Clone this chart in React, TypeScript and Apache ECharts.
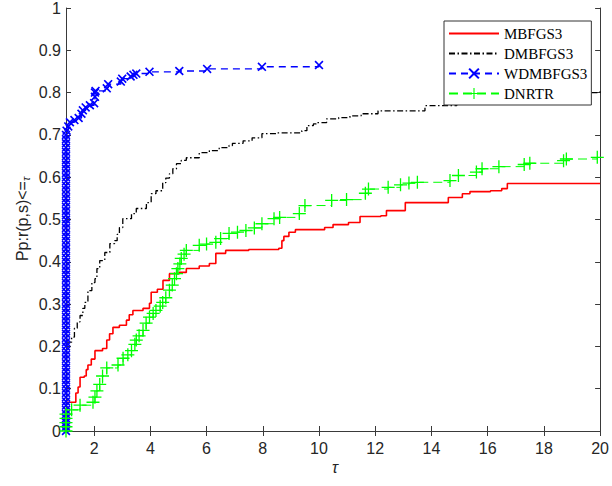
import React, { useEffect, useRef } from "react";
import * as echarts from "echarts";

const X_TICKS = [2, 4, 6, 8, 10, 12, 14, 16, 18, 20];
const SERIES_NAMES = ["MBFGS3", "DMBFGS3", "WDMBFGS3", "DNRTR"];

const MB_X = [1, 1.35, 1.43, 1.5, 1.65, 1.72, 1.78, 1.9, 2.03, 2.3, 2.45, 2.55, 2.67, 2.9, 3.15, 3.25, 3.38, 3.74, 3.97, 4.03, 4.25, 4.45, 4.68, 5.03, 5.28, 5.74, 6.1, 6.33, 6.68, 7.5, 8.57, 8.68, 8.75, 8.93, 9.16, 10.2, 10.5, 11.05, 11.46, 12.2, 12.4, 13.07, 14.6, 15.1, 15.37, 16.1, 16.5, 16.7, 20];
const MB_Y = [0.068, 0.09, 0.104, 0.127, 0.13, 0.145, 0.156, 0.17, 0.19, 0.195, 0.215, 0.23, 0.245, 0.25, 0.262, 0.275, 0.285, 0.29, 0.302, 0.328, 0.335, 0.356, 0.372, 0.375, 0.384, 0.39, 0.396, 0.42, 0.427, 0.429, 0.432, 0.45, 0.46, 0.47, 0.476, 0.481, 0.488, 0.493, 0.507, 0.509, 0.521, 0.54, 0.552, 0.561, 0.566, 0.568, 0.573, 0.585, 0.585];

const DM_X = [1, 1.2, 1.3, 1.4, 1.5, 1.6, 1.67, 1.78, 1.92, 2.03, 2.1, 2.2, 2.38, 2.56, 2.73, 2.82, 2.9, 3.02, 3.33, 3.5, 3.86, 4.03, 4.2, 4.44, 4.55, 4.68, 4.8, 4.93, 5.1, 5.28, 5.74, 6.1, 6.45, 6.8, 6.92, 7.3, 7.62, 7.97, 8.47, 9.39, 9.57, 9.8, 9.9, 10.27, 10.7, 11.1, 11.5, 12.1, 13.77, 14.9, 16.5, 18.5, 19.43, 20];
const DM_Y = [0.21, 0.222, 0.243, 0.258, 0.273, 0.29, 0.304, 0.332, 0.351, 0.36, 0.384, 0.403, 0.422, 0.443, 0.45, 0.465, 0.481, 0.502, 0.514, 0.526, 0.54, 0.561, 0.568, 0.587, 0.598, 0.608, 0.62, 0.632, 0.64, 0.646, 0.658, 0.663, 0.67, 0.675, 0.68, 0.686, 0.693, 0.703, 0.705, 0.71, 0.722, 0.726, 0.729, 0.738, 0.741, 0.745, 0.75, 0.757, 0.769, 0.78, 0.785, 0.79, 0.8, 0.804];

const WD_X = [1, 1, 1, 1, 1, 1, 1, 1, 1, 1, 1, 1, 1, 1, 1, 1, 1, 1, 1, 1, 1, 1, 1, 1, 1, 1, 1, 1, 1, 1, 1, 1, 1, 1, 1, 1, 1, 1, 1, 1, 1, 1, 1, 1, 1, 1, 1, 1, 1, 1, 1, 1, 1, 1, 1, 1, 1, 1, 1, 1, 1, 1, 1, 1, 1, 1, 1, 1, 1, 1, 1, 1.02, 1.08, 1.14, 1.3, 1.45, 1.55, 1.6, 1.7, 1.85, 2.0, 2.03, 2.03, 2.05, 2.45, 2.5, 2.95, 3.0, 3.3, 3.4, 3.5, 3.97, 5.03, 6.02, 7.97, 10];
const WD_Y = [0, 0.01, 0.02, 0.03, 0.04, 0.05, 0.06, 0.07, 0.08, 0.09, 0.1, 0.11, 0.12, 0.13, 0.14, 0.15, 0.16, 0.17, 0.18, 0.19, 0.2, 0.21, 0.22, 0.23, 0.24, 0.25, 0.26, 0.27, 0.28, 0.29, 0.3, 0.31, 0.32, 0.33, 0.34, 0.35, 0.36, 0.37, 0.38, 0.39, 0.4, 0.41, 0.42, 0.43, 0.44, 0.45, 0.46, 0.47, 0.48, 0.49, 0.5, 0.51, 0.52, 0.53, 0.54, 0.55, 0.56, 0.57, 0.58, 0.59, 0.6, 0.61, 0.62, 0.63, 0.64, 0.65, 0.66, 0.67, 0.68, 0.69, 0.7, 0.71, 0.72, 0.73, 0.735, 0.74, 0.75, 0.758, 0.765, 0.77, 0.775, 0.79, 0.8, 0.804, 0.81, 0.82, 0.826, 0.833, 0.838, 0.842, 0.845, 0.849, 0.851, 0.856, 0.861, 0.865];

const DN_X = [1, 1, 1, 1, 1, 1.2, 1.5, 1.96, 2.03, 2.1, 2.2, 2.3, 2.45, 2.85, 3.03, 3.2, 3.33, 3.45, 3.5, 3.6, 3.74, 3.85, 3.97, 4.1, 4.2, 4.35, 4.44, 4.55, 4.68, 4.78, 4.86, 4.93, 4.98, 5.05, 5.1, 5.2, 5.28, 5.74, 6.0, 6.33, 6.5, 6.8, 7.1, 7.4, 7.7, 7.97, 8.4, 8.6, 9.3, 9.5, 10.45, 10.98, 11.65, 11.76, 12.46, 12.9, 13.2, 13.5, 14.66, 14.96, 15.6, 15.8, 16.4, 17.3, 17.5, 18.7, 18.8, 19.9];
const DN_Y = [0, 0.01, 0.02, 0.03, 0.04, 0.05, 0.061, 0.068, 0.08, 0.095, 0.11, 0.13, 0.149, 0.156, 0.172, 0.18, 0.19, 0.205, 0.215, 0.225, 0.238, 0.255, 0.269, 0.278, 0.285, 0.295, 0.304, 0.315, 0.333, 0.345, 0.36, 0.372, 0.384, 0.395, 0.408, 0.418, 0.427, 0.439, 0.442, 0.446, 0.455, 0.467, 0.47, 0.474, 0.48, 0.49, 0.502, 0.505, 0.514, 0.533, 0.545, 0.547, 0.562, 0.572, 0.576, 0.582, 0.586, 0.588, 0.592, 0.604, 0.612, 0.62, 0.625, 0.63, 0.633, 0.639, 0.643, 0.647];

const zip = (xs: number[], ys: number[]) => xs.map((x, i) => [x, ys[i]]);

const X_SYMBOL = "path://M0,1.3 L1.3,0 L5,3.7 L8.7,0 L10,1.3 L6.3,5 L10,8.7 L8.7,10 L5,6.3 L1.3,10 L0,8.7 L3.7,5 Z";
const PLUS_SYMBOL = "path://M4.5,0 H5.5 V4.5 H10 V5.5 H5.5 V10 H4.5 V5.5 H0 V4.5 H4.5 Z";

const AXIS_COLOR = "#3a3a3a";
const LABEL_COLOR = "#262626";

export default function App() {
  const ref = useRef<HTMLDivElement>(null);
  useEffect(() => {
    if (!ref.current) return;
    const chart = echarts.init(ref.current, null, { renderer: "svg" });
    const axisLine = { show: true, lineStyle: { color: AXIS_COLOR, width: 1 } };
    chart.setOption({
      animation: false,
      backgroundColor: "#fff",
      grid: { left: 66, right: 9, top: 7, bottom: 55 },
      legend: {
        orient: "vertical",
        left: 444,
        top: 21,
        data: [
          { name: SERIES_NAMES[0], itemStyle: { opacity: 0 } },
          { name: SERIES_NAMES[1], itemStyle: { opacity: 0 } },
          { name: SERIES_NAMES[2] },
          { name: SERIES_NAMES[3] },
        ],
        backgroundColor: "#fff",
        borderColor: "#333",
        borderWidth: 1,
        borderRadius: 0,
        padding: [5, 4, 4, 4],
        itemGap: 5,
        itemWidth: 50,
        itemHeight: 14,
        textStyle: { fontFamily: "Liberation Serif", fontSize: 15, color: "#000" },
      },
      xAxis: [
        {
          type: "value",
          min: 1,
          max: 20,
          position: "bottom",
          axisLine,
          splitLine: { show: false },
          axisTick: { show: true, inside: true, length: 5, customValues: X_TICKS, lineStyle: { color: AXIS_COLOR } },
          axisLabel: { show: true, customValues: X_TICKS, margin: 9, color: LABEL_COLOR, fontFamily: "Liberation Sans", fontSize: 16 },
        },
        {
          type: "value",
          min: 1,
          max: 20,
          position: "top",
          axisLine,
          splitLine: { show: false },
          axisTick: { show: true, inside: true, length: 5, customValues: X_TICKS, lineStyle: { color: AXIS_COLOR } },
          axisLabel: { show: false },
        },
      ],
      yAxis: [
        {
          type: "value",
          min: 0,
          max: 1,
          interval: 0.1,
          position: "left",
          axisLine,
          splitLine: { show: false },
          axisTick: { show: true, inside: true, length: 5, lineStyle: { color: AXIS_COLOR } },
          axisLabel: { margin: 5, color: LABEL_COLOR, fontFamily: "Liberation Sans", fontSize: 16 },
        },
        {
          type: "value",
          min: 0,
          max: 1,
          interval: 0.1,
          position: "right",
          axisLine,
          splitLine: { show: false },
          axisTick: { show: true, inside: true, length: 5, lineStyle: { color: AXIS_COLOR } },
          axisLabel: { show: false },
        },
      ],
      series: [
        {
          name: SERIES_NAMES[0],
          type: "line",
          step: "end",
          data: zip(MB_X, MB_Y),
          symbol: "none",
          clip: false,
          itemStyle: { color: "#ff0000" },
          lineStyle: { color: "#ff0000", width: 1.6 },
        },
        {
          name: SERIES_NAMES[1],
          type: "line",
          step: "end",
          data: zip(DM_X, DM_Y),
          symbol: "none",
          clip: false,
          itemStyle: { color: "#000" },
          lineStyle: { color: "#000", width: 1.3, type: [6, 2.5, 1.5, 2.5] },
        },
        {
          name: SERIES_NAMES[2],
          type: "line",
          step: "end",
          data: zip(WD_X, WD_Y),
          symbol: X_SYMBOL,
          symbolSize: 9,
          clip: false,
          itemStyle: { color: "#0000ff" },
          lineStyle: { color: "#0000ff", width: 1.4, type: [7, 5] },
        },
        {
          name: SERIES_NAMES[3],
          type: "line",
          step: "end",
          data: zip(DN_X, DN_Y),
          symbol: PLUS_SYMBOL,
          symbolSize: 13,
          clip: false,
          itemStyle: { color: "#00ff00" },
          lineStyle: { color: "#00ff00", width: 1, type: [9, 5] },
        },
      ],
      graphic: [
        {
          type: "text",
          x: 22,
          y: 219,
          rotation: Math.PI / 2,
          style: {
            text: "{a|Pp:r(p,s)<=}{b|τ}",
            align: "center",
            verticalAlign: "middle",
            rich: {
              a: { fontFamily: "Liberation Sans", fontSize: 16, fill: LABEL_COLOR, lineHeight: 18, verticalAlign: "middle" },
              b: { fontFamily: "Liberation Sans", fontSize: 11, fontStyle: "italic", fill: LABEL_COLOR, lineHeight: 18, verticalAlign: "bottom" },
            },
          },
        },
        {
          type: "text",
          x: 335,
          y: 467,
          style: {
            text: "τ",
            align: "center",
            verticalAlign: "middle",
            fontFamily: "Liberation Sans",
            fontStyle: "italic",
            fontSize: 16,
            fill: LABEL_COLOR,
          },
        },
      ],
    });
    return () => chart.dispose();
  }, []);
  return <div ref={ref} style={{ position: "fixed", left: 0, top: 0, width: 612, height: 486 }} />;
}
